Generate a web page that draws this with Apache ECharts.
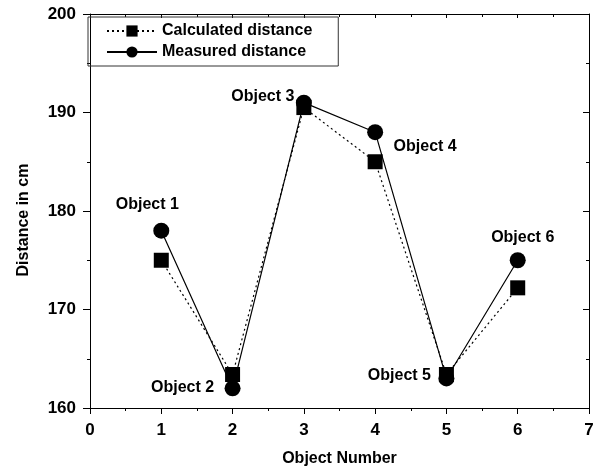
<!DOCTYPE html>
<html>
<head>
<meta charset="utf-8">
<script src="https://cdn.jsdelivr.net/npm/echarts@6/dist/echarts.min.js"></script>
<style>
html,body{margin:0;padding:0;background:#fff;}
#chart{width:597px;height:472px;}
</style>
</head>
<body>
<div id="chart"></div>
<script>
// ---- data ----
var objectNumbers = [1, 2, 3, 4, 5, 6];
var objectNames = ['Object 1', 'Object 2', 'Object 3', 'Object 4', 'Object 5', 'Object 6'];
var calculatedDistance = [175, 163.4, 190.5, 185, 163.4, 172.2];
var measuredDistance = [178, 162, 191, 188, 163, 175];
var xTicks = [0, 1, 2, 3, 4, 5, 6, 7];
var yTicks = [160, 170, 180, 190, 200];

// ---- label placement (style only) ----
var labelOffsets = [[-14, -26], [-50, -1], [-41, -6], [50, 14], [-47, -3], [5, -23]];

var FONT = '"Liberation Sans", Arial, sans-serif';

var measuredData = measuredDistance.map(function (v, i) {
  return {
    value: [objectNumbers[i], v],
    label: {
      show: true,
      formatter: objectNames[i],
      position: 'inside',
      offset: labelOffsets[i],
      color: '#000',
      fontFamily: FONT,
      fontWeight: 'bold',
      fontSize: 16
    }
  };
});
var calcData = calculatedDistance.map(function (v, i) { return [objectNumbers[i], v]; });

var chart = echarts.init(document.getElementById('chart'), null, {renderer: 'canvas'});

var axisLineStyle = {color: '#000', width: 1};
var xBase = {
  type: 'value', min: xTicks[0], max: xTicks[xTicks.length - 1], interval: 1,
  splitLine: {show: false},
  axisLine: {show: true, onZero: false, lineStyle: axisLineStyle}
};
var yBase = {
  type: 'value', min: yTicks[0], max: yTicks[yTicks.length - 1], interval: 10,
  splitLine: {show: false},
  axisLine: {show: true, onZero: false, lineStyle: axisLineStyle}
};

chart.setOption({
  animation: false,
  backgroundColor: '#fff',
  grid: {left: 90, right: 8, top: 14, bottom: 64, containLabel: false, outerBoundsMode: 'none'},
  legend: {
    left: 88, top: 17,
    orient: 'vertical',
    padding: [6, 26, 6, 18],
    itemGap: 5,
    itemWidth: 50,
    itemHeight: 14,
    borderColor: '#333',
    borderWidth: 1,
    textStyle: {fontFamily: FONT, fontWeight: 'bold', fontSize: 16, color: '#000'},
    data: ['Calculated distance', 'Measured distance']
  },
  xAxis: [
    Object.assign({}, xBase, {
      position: 'bottom',
      name: 'Object Number', nameLocation: 'middle', nameGap: 43,
      nameTextStyle: {fontFamily: FONT, fontWeight: 'bold', fontSize: 16, color: '#000'},
      axisTick: {show: true, inside: false, length: 6, lineStyle: axisLineStyle},
      minorTick: {show: true, splitNumber: 2, length: 3, lineStyle: axisLineStyle},
      axisLabel: {margin: 14, fontFamily: FONT, fontWeight: 'bold', fontSize: 17, color: '#000'}
    }),
    Object.assign({}, xBase, {
      position: 'top',
      axisTick: {show: true, inside: true, length: 4, lineStyle: axisLineStyle},
      minorTick: {show: true, splitNumber: 2, length: 3, lineStyle: axisLineStyle},
      axisLabel: {show: false}
    })
  ],
  yAxis: [
    Object.assign({}, yBase, {
      position: 'left',
      name: 'Distance in cm', nameLocation: 'middle', nameGap: 58,
      nameTextStyle: {fontFamily: FONT, fontWeight: 'bold', fontSize: 16, color: '#000', padding: [0, 18, 0, 0]},
      axisTick: {show: true, inside: false, length: 7, lineStyle: axisLineStyle},
      minorTick: {show: true, splitNumber: 2, length: 3, lineStyle: axisLineStyle},
      axisLabel: {margin: 14, fontFamily: FONT, fontWeight: 'bold', fontSize: 17, color: '#000'}
    }),
    Object.assign({}, yBase, {
      position: 'right',
      axisTick: {show: true, inside: true, length: 6, lineStyle: axisLineStyle},
      minorTick: {show: true, splitNumber: 2, length: 3, lineStyle: axisLineStyle},
      axisLabel: {show: false}
    })
  ],
  series: [
    {
      name: 'Calculated distance',
      type: 'line',
      xAxisIndex: 0, yAxisIndex: 0,
      data: calcData,
      symbol: 'rect',
      symbolSize: 15,
      itemStyle: {color: '#000'},
      lineStyle: {color: '#000', width: 1.2, type: [2, 3]},
      z: 3
    },
    {
      name: 'Measured distance',
      type: 'line',
      xAxisIndex: 0, yAxisIndex: 0,
      data: measuredData,
      symbol: 'circle',
      symbolSize: 16,
      itemStyle: {color: '#000'},
      lineStyle: {color: '#000', width: 1.2, type: 'solid'},
      z: 2
    }
  ]
});
</script>
</body>
</html>
